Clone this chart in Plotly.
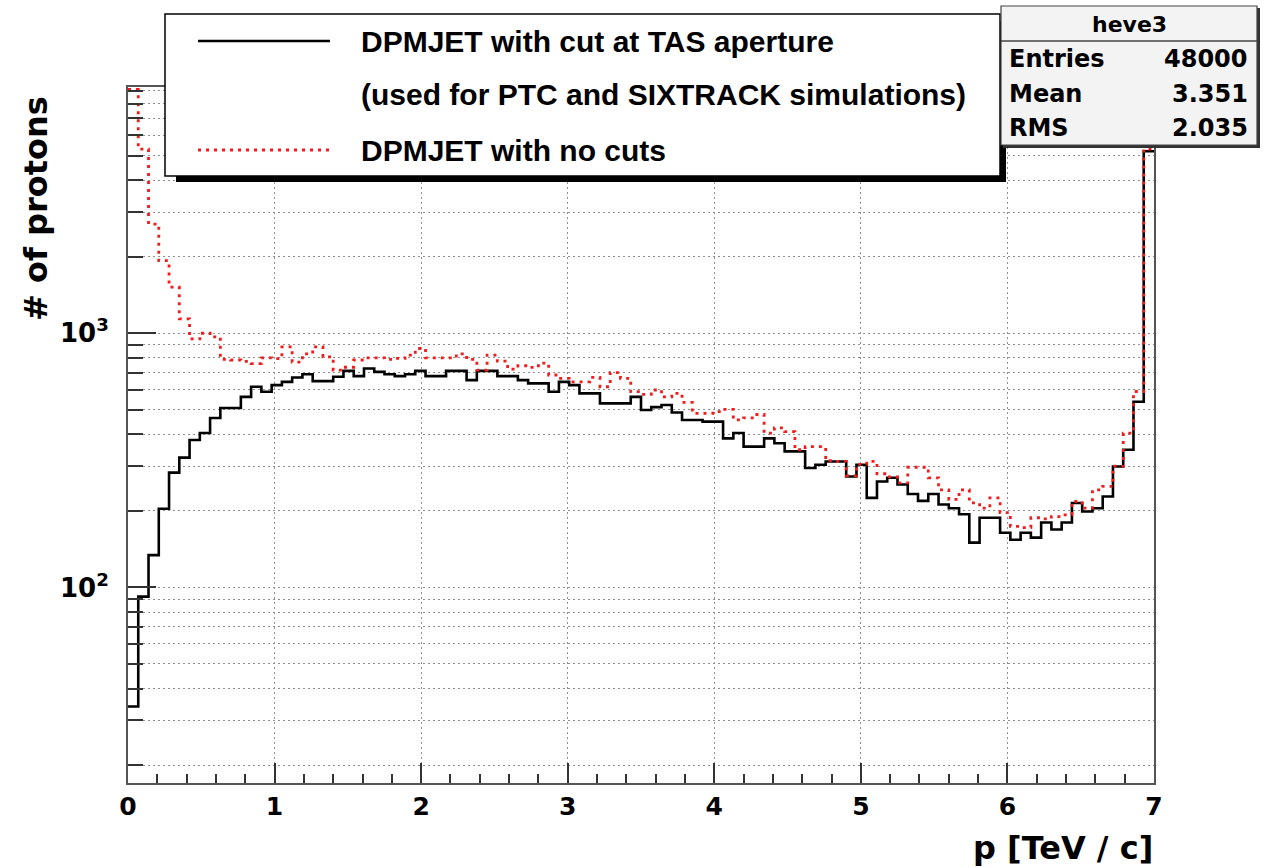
import math
import plotly.graph_objects as go

# Histogram binning (TH1-style): 100 bins of p from 0 to 7 TeV/c
N_BINS = 100
P_MIN, P_MAX = 0.0, 7.0

# Bin contents, DPMJET with cut at TAS aperture (heve3)
counts_tas_cut = [
    34, 92, 134, 204, 283, 324, 380, 405, 464, 508,
    508, 562, 616, 589, 625, 644, 670, 690, 648, 648,
    674, 711, 678, 727, 705, 690, 678, 690, 711, 678,
    678, 711, 711, 654, 711, 711, 678, 678, 654, 635,
    635, 589, 644, 625, 580, 580, 530, 530, 530, 562,
    499, 512, 522, 488, 456, 456, 449, 449, 386, 405,
    358, 358, 386, 369, 343, 343, 295, 304, 313, 313,
    273, 304, 225, 261, 270, 254, 233, 219, 233, 212,
    205, 194, 150, 188, 188, 164, 154, 164, 157, 180,
    169, 180, 215, 199, 205, 228, 299, 348, 538, 5200,
]

# Bin contents, DPMJET with no cuts
counts_no_cut = [
    9100, 5300, 2690, 1930, 1520, 1140, 950, 1000, 967, 789,
    785, 775, 760, 800, 795, 884, 770, 830, 884, 807,
    716, 735, 785, 800, 800, 789, 796, 820, 871, 800,
    800, 800, 830, 789, 716, 820, 777, 723, 745, 734,
    763, 685, 665, 644, 644, 670, 616, 700, 665, 589,
    575, 598, 562, 580, 535, 484, 484, 492, 502, 456,
    465, 479, 405, 424, 410, 348, 358, 358, 315, 313,
    275, 305, 313, 280, 272, 258, 297, 297, 270, 242,
    222, 242, 215, 205, 225, 197, 174, 172, 188, 186,
    190, 193, 218, 205, 242, 250, 300, 405, 590, 5300,
]

x_ticks = [0, 1, 2, 3, 4, 5, 6, 7]
y_major_ticks = [100, 1000]
y_major_labels = ["10<sup>2</sup>", "10<sup>3</sup>"]
y_minor_ticks = [20, 30, 40, 50, 60, 70, 80, 90,
                 200, 300, 400, 500, 600, 700, 800, 900,
                 2000, 3000, 4000, 5000, 6000, 7000, 8000, 9000]
Y_MIN, Y_MAX = 17.0, 9310.0

legend_texts = ["DPMJET with cut at TAS aperture",
                "(used for PTC and SIXTRACK simulations)",
                "DPMJET with no cuts"]
stats_title = "heve3"
stats_names = ["Entries", "Mean", "RMS"]
stats_values = ["48000", "3.351", "2.035"]

x_title = "p [TeV / c]"
y_title = "# of protons"

# ---- page geometry (pixels) ----
W, H = 1266, 867
L, R, T, B = 128, 112, 87, 84
PW, PH = W - L - R, H - T - B


def fx(px):
    return (px - L) / PW


def fy(py):
    return 1 - (py - T) / PH


# step outline: left edges plus the closing right edge
width = (P_MAX - P_MIN) / N_BINS
edges = [P_MIN + i * width for i in range(N_BINS + 1)]


def outline(counts):
    return edges, list(counts) + [counts[-1]]


RED = "#f01c1c"
TXT = "Liberation Sans"
NUM = "DejaVu Sans"

fig = go.Figure()
xs, ys = outline(counts_tas_cut)
fig.add_trace(go.Scatter(x=xs, y=ys, mode="lines", line_shape="hv",
                         line=dict(color="black", width=2.6),
                         hoverinfo="skip", showlegend=False))
xs, ys = outline(counts_no_cut)
fig.add_trace(go.Scatter(x=xs, y=ys, mode="lines", line_shape="hv",
                         line=dict(color=RED, width=2.8, dash="3px,5px"),
                         hoverinfo="skip", showlegend=False))

grid = dict(gridcolor="#909090", griddash="2px,3px", gridwidth=1)

fig.update_layout(
    width=W, height=H, autosize=False,
    margin=dict(l=L, r=R, t=T, b=B, pad=0),
    paper_bgcolor="white", plot_bgcolor="white",
    showlegend=False,
    xaxis=dict(
        range=[P_MIN, P_MAX], tickmode="array", tickvals=x_ticks,
        ticks="inside", ticklen=20, tickwidth=1.5, tickcolor="#333",
        showline=True, linecolor="#555", linewidth=2, mirror=True,
        showgrid=True, **grid, zeroline=False,
        minor=dict(ticks="inside", ticklen=9, tickwidth=1.5, tickcolor="#333",
                   tick0=0, dtick=0.2, showgrid=False),
        tickfont=dict(family=NUM, size=25, color="black", weight="bold"),
        ticklabelstandoff=0,
    ),
    yaxis=dict(
        type="log", range=[math.log10(Y_MIN), math.log10(Y_MAX)],
        tickmode="array", tickvals=y_major_ticks, ticktext=y_major_labels,
        ticks="inside", ticklen=28, tickwidth=1.5, tickcolor="#333",
        showline=True, linecolor="#555", linewidth=2, mirror=True,
        showgrid=True, **grid, zeroline=False,
        minor=dict(ticks="inside", ticklen=15, tickwidth=1.5, tickcolor="#333",
                   tickmode="array", tickvals=y_minor_ticks, showgrid=True, **grid),
        tickfont=dict(family=NUM, size=26, color="black", weight="bold"),
        ticklabelstandoff=12,
    ),
)

shapes = []
ann = []

# legend box with shadow
shapes.append(dict(type="rect", xref="paper", yref="paper", layer="above",
                   x0=fx(176), x1=fx(1006), y0=fy(182), y1=fy(21),
                   fillcolor="black", line=dict(width=0)))
shapes.append(dict(type="rect", xref="paper", yref="paper", layer="above",
                   x0=fx(165), x1=fx(1000), y0=fy(176), y1=fy(14),
                   fillcolor="white", line=dict(color="black", width=1.5)))
shapes.append(dict(type="line", xref="paper", yref="paper", layer="above",
                   x0=fx(198), x1=fx(330), y0=fy(41), y1=fy(41),
                   line=dict(color="black", width=2.6)))
shapes.append(dict(type="line", xref="paper", yref="paper", layer="above",
                   x0=fx(198), x1=fx(330), y0=fy(150), y1=fy(150),
                   line=dict(color=RED, width=2.8, dash="3px,5px")))
for txt, py in zip(legend_texts, [41, 95, 150]):
    ann.append(dict(text=txt, xref="paper", yref="paper", x=fx(359), y=fy(py),
                    xanchor="left", yanchor="middle", showarrow=False,
                    font=dict(family=TXT, size=30, color="black", weight="bold")))

# statistics box
shapes.append(dict(type="rect", xref="paper", yref="paper", layer="above",
                   x0=fx(1003), x1=fx(1260), y0=fy(148), y1=fy(8),
                   fillcolor="#333", line=dict(width=0)))
shapes.append(dict(type="rect", xref="paper", yref="paper", layer="above",
                   x0=fx(1001), x1=fx(1257), y0=fy(145), y1=fy(6),
                   fillcolor="#f3f3f3", line=dict(color="#444", width=1.2)))
shapes.append(dict(type="line", xref="paper", yref="paper", layer="above",
                   x0=fx(1001), x1=fx(1257), y0=fy(41), y1=fy(41),
                   line=dict(color="#444", width=1.5)))
ann.append(dict(text=stats_title, xref="paper", yref="paper", x=fx(1129), y=fy(24),
                xanchor="center", yanchor="middle", showarrow=False,
                font=dict(family=NUM, size=22, color="black", weight="bold")))
for name, val, py in zip(stats_names, stats_values, [59, 94, 128]):
    ann.append(dict(text=name, xref="paper", yref="paper", x=fx(1007), y=fy(py),
                    xanchor="left", yanchor="middle", showarrow=False,
                    font=dict(family=NUM, size=24, color="black", weight="bold")))
    ann.append(dict(text=val, xref="paper", yref="paper", x=fx(1250), y=fy(py),
                    xanchor="right", yanchor="middle", showarrow=False,
                    font=dict(family=NUM, size=24, color="black", weight="bold")))

# axis titles
ann.append(dict(text=x_title, xref="paper", yref="paper", x=fx(1155), y=fy(848),
                xanchor="right", yanchor="middle", showarrow=False,
                font=dict(family=NUM, size=32, color="black", weight="bold")))
ann.append(dict(text=y_title, xref="paper", yref="paper", x=fx(36), y=fy(209),
                xanchor="center", yanchor="middle", textangle=-90, showarrow=False,
                font=dict(family=NUM, size=32, color="black", weight="bold")))

fig.update_layout(shapes=shapes, annotations=ann)
fig.write_html("out.html")
